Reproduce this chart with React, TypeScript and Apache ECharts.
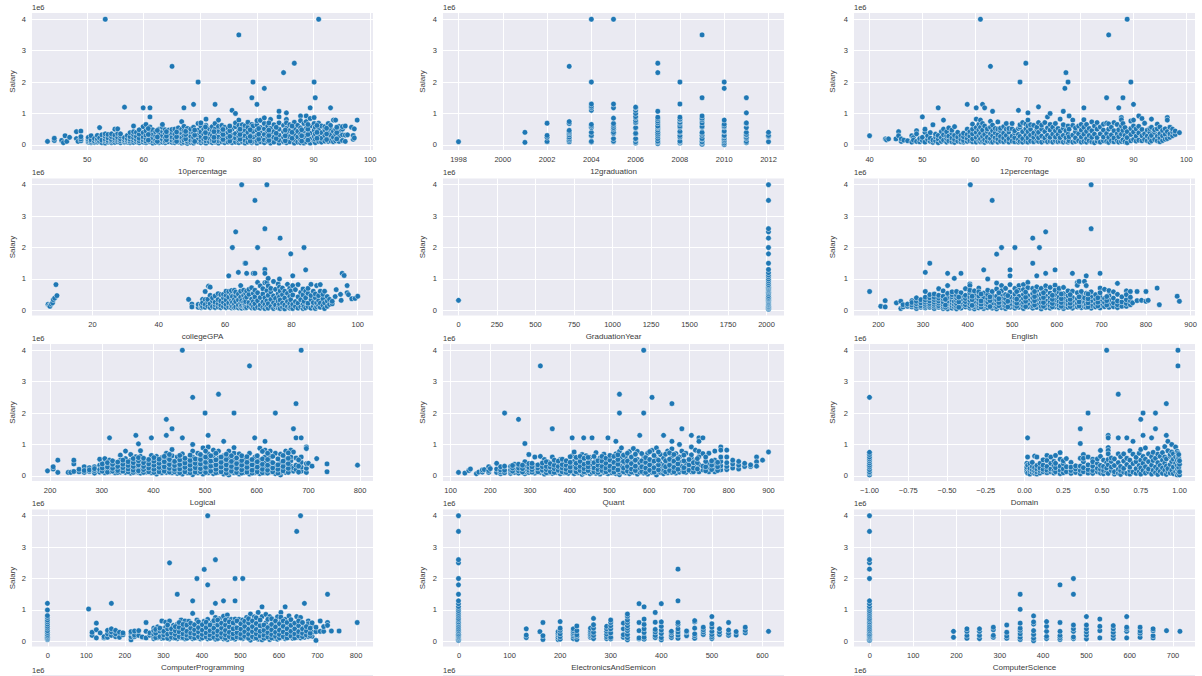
import React, { useEffect, useRef } from "react";
import * as echarts from "echarts";

// Values: [x, [salary in thousands, ...]]
type Col = [number, number[]];

const tenthPct: Col[] = [
[43,[110]],[44.2,[140,210]],[45.5,[140]],[45.8,[70]],[46.1,[290]],[46.4,[110]],[46.9,[240]],[48.1,[420,200]],[48.4,[110]],[48.9,[440,130,190,260]],
[50.2,[90,130,180,240]],[50.7,[70,110,160,290]],[51.3,[80,120,200]],[51.8,[90,140,190,300]],[52.2,[550,110,220]],[52.6,[70,150,320]],[53.2,[4000,60,130,180,270,350]],[53.7,[90,140,220,330]],[54.3,[70,120,170,260,350]],[54.9,[80,150,210,310,500]],[55.4,[100,170,240,360,510]],[55.9,[70,130,190,280,350]],[56.6,[1200,80,110,160,230]],[57.1,[90,140,200,300]],[57.6,[70,120,180,260,390]],[58.2,[80,150,230,330,420,600]],[58.7,[100,170,270,400]],[59.2,[70,130,210,340,480]],[59.9,[1180,90,160,250,390,580]],[60.4,[70,120,200,310,450,650]],[61.1,[1180,890,100,170,260,400,570]],[61.6,[60,130,220,340,480]],[62.1,[80,150,280,420]],[62.7,[70,120,200,350,500]],[63.3,[90,170,290,430,560,650]],[63.8,[70,130,230,370,480]],[64.4,[100,190,310,470]],[65,[2500,80,150,250,390,490]],[65.5,[70,130,210,340,500]],[66.1,[90,170,290,430,540]],[66.7,[740,60,120,240,380,500]],[67.1,[1180,80,160,300,450,590]],[67.7,[50,110,220,350,520]],[68.3,[80,150,280,420,500]],[68.8,[1290,60,130,240,380,560]],[69.6,[2000,100,190,320,470,680]],[70.1,[70,140,260,410,600,700]],[70.6,[90,180,340,500]],[71,[820,60,130,270,440,620]],[71.6,[100,210,360,510]],[72.1,[70,150,290,470,580]],[72.6,[1290,90,190,340,500,680]],[73.2,[790,60,130,250,430,590]],[73.8,[100,200,370,520,620]],[74.3,[70,150,290,460,560]],[74.9,[90,230,390,530]],[75.6,[1100,70,160,310,500]],[76.2,[1000,90,220,360,580,700]],[76.8,[790,3500,70,150,280,450,620]],[77.4,[100,210,380,530,640]],[77.9,[60,140,290,470,610]],[78.4,[90,230,400,560,720]],[79.1,[1500,70,160,320,500,650]],[79.3,[2000,110,250,430,600]],[80,[1290,60,140,300,470,640,770]],[80.6,[100,220,390,550,780]],[81.3,[1800,70,160,330,510,680,860]],[81.9,[110,260,430,600]],[82.4,[60,180,350,520,810]],[83,[90,240,420,640]],[83.9,[1070,890,60,150,310,500,700]],[84.7,[2300,100,240,420,620]],[85.2,[1020,810,70,170,340,530,700]],[85.8,[100,260,450,640]],[86.6,[2600,60,170,330,520,720]],[87.2,[90,250,430,620]],[87.7,[920,70,160,340,540,770]],[88.3,[60,230,440,680]],[88.7,[920,100,300,520,740]],[89.4,[1180,840,60,190,370,600]],[90.1,[2000,870,110,260,470,680]],[90.3,[1500,70,180,350,560]],[90.9,[4000,110,280,490,690]],[91.4,[90,210,390,600]],[92,[120,300,480,580]],[92.6,[110,230,410,680]],[93,[1180,130,320,520,620]],[93.5,[790,100,240,430]],[93.9,[790,130,340,500]],[94.5,[110,280,450,590]],[95.1,[140,320,500,580]],[95.6,[110,310,600]],[96,[320]],[96.7,[560]],[97,[180,300]],[97.2,[220,510]],[97.7,[790]],
];
const tenthPctExtra: Col[] = [
[60.8,[150,330,520]],[62.4,[110,250,460]],[64,[160,280,420]],[65.8,[110,260,410]],[67.4,[190,330,430]],[69,[110,310,470]],[70.9,[230,390,570]],[72.4,[130,240,420]],[74,[170,330,490]],[75.2,[120,270,450,600]],[77,[180,330,500]],[78.8,[120,270,480]],[80.3,[180,340,520]],[82.1,[140,300,470,700]],[83.4,[200,370,560]],[85,[130,290,470]],[86.2,[210,400,600]],[87.9,[120,290,480]],[89,[150,330,500,650]],[90.6,[210,400,620]],[92.3,[170,350,530]],[94.1,[190,390,560]],
];

const gradYear12: Col[] = [
[1998,[100]],[2001,[80,400]],[2002,[100,110,240,300,690]],[2003,[100,150,200,250,320,380,420,460,680,740,2500]],[2004,[90,110,280,300,400,550,600,650,1100,1180,1230,1300,2000,4000]],[2005,[100,120,200,360,400,500,550,620,680,850,1180,1300,4000]],[2006,[60,100,180,200,350,370,530,550,700,720,780,860,900,1000,1100,1180,1200]],[2007,[40,90,120,200,280,340,400,470,540,580,600,700,760,830,880,1070,2300,2600]],[2008,[60,100,120,250,300,400,430,560,600,680,720,800,820,880,1300,2000]],[2009,[20,70,100,180,200,300,360,400,560,590,700,800,850,920,1500,3500]],[2010,[10,60,120,170,220,280,300,420,440,570,600,660,790,1800,2000]],[2011,[70,110,200,240,310,330,400,550,680,700,1020,1500]],[2012,[100,270,300,400]],
];

const twelfthPct: Col[] = [
[40,[290]],[43,[190]],[43.2,[160]],[43.6,[190]],[45,[190]],[45.5,[420,290]],[46,[110,190]],[46.5,[150]],[47.2,[130]],[48,[290,90]],[48.3,[230,150]],[48.9,[450,350,110]],[49.5,[100,200]],[50,[890,140,240]],[50.5,[400,500,90]],[51,[170,290]],[51.5,[390,110,210]],[52,[640,80,150]],[52.5,[130,250,340]],[53,[1180,70,190,300]],[53.6,[110,230,420]],[54,[790,150,320,500]],[54.6,[90,200,290,420]],[55,[130,280,540]],[55.6,[100,220,370,470]],[56.1,[80,170,300,580]],[56.7,[120,250,400]],[57.3,[100,180,300]],[57.8,[90,140,260,370]],[58.5,[1290,110,210,330,500]],[59,[130,280,420]],[59.5,[100,190,350,500,660]],[60.2,[1180,820,90,240,400,550]],[60.7,[130,300,480,650]],[61,[4000,790,100,190,370,560]],[61.4,[1290,110,270,470,680]],[61.8,[1180,80,160,330,600]],[62.3,[120,240,430,510]],[62.9,[2500,100,200,350,560,750]],[63.3,[1070,90,290,450,630]],[63.8,[130,230,380,520]],[64.3,[730,90,190,320,500]],[64.8,[120,270,450,530]],[65.4,[100,220,370,580]],[65.9,[130,300,500,680]],[66.4,[90,200,410,520]],[67,[120,280,510,680]],[67.5,[100,230,380,450]],[68.2,[1100,90,170,330,520]],[68.5,[2000,110,270,560,640]],[69,[90,200,420,710]],[69.6,[2600,110,300,510,660]],[70,[1020,790,90,220,420,600]],[70.5,[120,310,500,640]],[71.1,[100,240,380,620]],[71.7,[130,310,480,560]],[72,[1210,710,110,230,400]],[72.6,[90,280,500,630]],[73.2,[130,220,420,710]],[73.7,[890,100,300,540]],[74.2,[1000,120,240,470,650]],[74.7,[90,340,560]],[75.2,[130,250,450,680]],[75.7,[100,330,520]],[76.1,[820,120,230,440]],[76.7,[1070,90,300,530,640]],[77.2,[2300,110,230,450]],[77.6,[2000,90,340,600]],[77,[1800]],[77.8,[920,130,260,500]],[78.5,[790,90,310,620]],[79,[110,220,420,540]],[79.6,[130,350,600]],[80.1,[90,250,470,650]],[80.6,[1180,800,110,340,560]],[81.1,[90,200,430,650]],[81.6,[130,300,520]],[82.1,[100,240,450,730]],[82.6,[70,340,600]],[83.1,[120,230,500,710]],[83.7,[90,350,570]],[84.3,[130,250,470,660]],[84.9,[1500,110,360,690]],[85.3,[3500,80,240,500,670]],[85.8,[130,320,560]],[86.3,[100,220,450,710]],[86.9,[130,350,650]],[87.2,[1180,90,260,480]],[87.7,[870,110,340,600,800]],[88,[1500,160,460,680]],[88.4,[100,300,550]],[88.8,[4000,70,230,420]],[89.5,[2000,760,130,330,520]],[90,[1290,790,170,410,600]],[90.5,[120,280,510]],[91,[920,150,380,590]],[91.6,[840,130,290,490]],[92.1,[170,350,690]],[92.6,[130,280,470]],[93.1,[90,220,400,520]],[93.4,[820,130,300,560]],[94,[170,400,480]],[94.5,[660,130,280,510]],[95,[100,230,360,570]],[95.5,[140,290,460]],[96,[180,340,510]],[96.4,[870,790,200,420]],[96.9,[240,350,560]],[97.4,[290,420,500]],[97.9,[330,440]],[98.7,[390]],
];

const collegeGpa: Col[] = [
[6.6,[190]],[7,[150]],[7.2,[130]],[7.6,[200]],[8,[240]],[8.2,[340]],[8.6,[390]],[9,[820]],[9.3,[470]],[49,[350]],[50,[200,110]],[51.9,[100,190]],[52.8,[90,140,190]],[53.2,[350,120,240]],[54,[600,340,100,190]],[54.8,[130,270,350]],[55,[770]],[55.5,[740,90,210,480]],[56.2,[120,300,400]],[57,[90,180,260,460]],[57.9,[110,220,340,530]],[58.7,[90,170,300,500]],[59.5,[120,250,400,510]],[60.3,[90,190,330,480,610]],[61.1,[1100,110,240,420,600]],[61.9,[80,170,310,500,630]],[62.2,[2000,120,260,440]],[62.8,[90,200,350,640]],[63.2,[2500,110,280,470,580]],[64,[1210,80,170,330,520]],[64.7,[100,230,420,610,790]],[65,[4000,70,150,310]],[65.6,[110,260,480,640]],[66,[1500,80,190,370]],[66.2,[1500,540,120,280]],[66.5,[1180,90,420,620]],[67.2,[130,250,510,670]],[68,[80,190,360,720]],[68.5,[1180,110,280,540]],[69,[3500,1180,70,210,430,640]],[69.8,[2000,890,100,310,560]],[70.6,[70,170,410,780]],[71.4,[100,260,520,690]],[72,[2600,1300,1180,60,190,400,880]],[72.6,[4000,890,110,300,630]],[73,[1020,70,210,480,780]],[73.8,[120,350,590,700]],[74.6,[60,240,460,920]],[75.2,[110,170,380,670]],[76,[80,290,530,840]],[76.4,[1000,120,200,430,740]],[76.6,[2300,60,330,620]],[77.3,[100,230,500,710]],[78,[50,170,390,610]],[78.8,[120,280,540,830]],[79.5,[70,210,440,700]],[79.8,[1800,100,340,620]],[80.4,[1100,60,190,490,790]],[81.2,[120,280,660]],[82,[70,230,430,820]],[82.8,[110,340,570]],[83.5,[60,190,490,680]],[83.8,[2000,120,290]],[84.3,[1290,80,400,610]],[85,[120,230,540,700]],[85.9,[830,70,340,470]],[86.6,[130,250,610]],[87.2,[60,400,520]],[87.6,[790,120,240]],[88.2,[150,310,470]],[88.7,[820,100,230,610]],[89.5,[160,370,510]],[90,[60,240,610]],[90.8,[130,300,440]],[91.5,[190,350]],[92.3,[210,290]],[93.2,[440]],[93.5,[660]],[94.8,[510]],[95,[320]],[95.3,[1180]],[95.9,[1110]],[96.8,[790,560]],[97.2,[500]],[98.2,[370]],[99.2,[380]],[100,[450]],
];

const graduationYear: Col[] = [
[0,[320]],
[2013,[35,70,100,130,170,200,240,280,320,350,380,420,470,530,580,620,660,700,740,780,820,880,940,1000,1070,1130,1200,1300,1500,1800,2000,2300,2500,2600,3500,4000]],
];

const english: Col[] = [
[180,[600]],[205,[130]],[215,[310,110]],[240,[240]],[250,[290,60]],[255,[110,180]],[265,[130,200]],[275,[110,170,310,250]],[285,[60,130,210,290,400]],[295,[100,150,240,340]],[305,[1210,80,130,190,260,330,420,600]],[315,[1500,100,160,220,300,400,500]],[325,[60,130,190,260,340,420,520]],[335,[690,100,150,230,300,390,480]],[345,[60,120,190,270,370,450,620]],[355,[1180,790,50,130,210,290,400,540]],[365,[70,150,240,330,430,500,590]],[370,[1020,110,190,280]],[375,[50,130,220,310,400,480,600]],[385,[1180,70,160,260,350,450,560]],[395,[110,180,280,380,480,690]],[405,[840,790,70,130,220,320,430,560,640]],[406,[4000]],[415,[50,120,190,290,390,500,620]],[425,[710,80,150,240,350,460,590]],[436,[1290,60,130,210,320,420,550]],[445,[1000,90,170,270,380,500,640]],[455,[3500,70,140,230,350,470,600]],[465,[1790,870,50,120,210,330,450,680]],[476,[2000,790,90,170,280,400,530,620]],[485,[60,140,250,370,500,700]],[495,[1290,1100,820,100,190,310,430,580]],[506,[2000,70,150,270,390,520,700]],[515,[790,100,200,320,450,640]],[525,[820,60,150,260,380,510,660]],[535,[890,110,210,330,470,720]],[546,[2300,1500,70,150,280,400,540,700]],[555,[1100,100,200,340,470,640,750]],[561,[2000]],[565,[50,130,260,390,520,700]],[575,[2500,1180,780,90,180,320,460,620]],[585,[70,150,270,400,550,730]],[596,[1290,800,110,210,340,500,640]],[605,[90,170,290,420,580,700]],[615,[60,130,250,380,530,730]],[625,[100,200,320,470,620]],[635,[1180,70,160,290,410,610]],[646,[890,800,110,230,370,560]],[650,[920]],[655,[90,180,310,450,600]],[662,[920,120,260,400]],[666,[1100,790,100,200,540]],[677,[4000,2600,70,150,300,440,590]],[687,[110,220,360,500]],[697,[1180,710,80,180,300,430,560]],[707,[120,250,380,670]],[717,[100,200,330,480,630]],[727,[120,240,390,590]],[736,[860,90,180,300,510]],[746,[130,270,430]],[756,[620,130,220,340,500]],[765,[600,180,300,420]],[770,[240]],[780,[600,310]],[790,[320]],[800,[600,290]],[805,[320]],[825,[710]],[830,[180]],[870,[450]],[875,[290]],
];
const englishExtra: Col[] = [
[350,[100,170,350]],[380,[100,270,420]],[410,[160,340,450]],[430,[110,200,300,520]],[450,[120,310,430]],[470,[150,250,370,560]],[490,[110,290,470]],[510,[130,230,360,600]],[530,[120,290,420,580]],[550,[170,310,440,600]],[570,[130,250,410,560]],[590,[110,220,350,480]],[610,[130,250,370,520]],[630,[120,230,350,500]],[650,[140,270,430]],[670,[110,240,370,520]],[692,[140,260,400]],[712,[170,310,440]],
];

const logical: Col[] = [
[195,[160]],[206,[220,290]],[215,[110,500]],[235,[110]],[240,[110]],[246,[140,380,500]],[256,[130,210]],[266,[110,290,170]],[276,[140,260,190]],[286,[90,170,290,230]],[296,[120,340,530,200]],[306,[100,180,310,430,550]],[315,[1210,130,230,330,500]],[326,[100,190,280,430]],[336,[120,210,360,660,500]],[346,[790,110,200,310,420,550]],[356,[90,160,260,380,680,490]],[366,[1290,130,220,330,450,610]],[371,[1020,110,280]],[375,[800,90,170,400,520,620]],[386,[120,230,350,470]],[396,[1210,100,180,300,420,650]],[406,[60,140,250,370,510,620]],[416,[100,200,330,450,580]],[425,[1800,1290,110,220,390,560,720]],[436,[1500,840,100,180,300,470,640]],[446,[80,150,260,380,530,600]],[456,[4000,1210,60,170,300,450,700]],[466,[100,210,340,500]],[476,[2500,1000,40,150,290,420,600,790]],[486,[100,220,360,530,720]],[496,[60,170,290,450,610,890]],[500,[2000]],[506,[1290,920,100,230,390,570,700]],[516,[70,170,320,480,650,820]],[526,[2600,120,250,390,560,790]],[536,[1100,60,170,320,480,640]],[546,[30,110,250,400,790,570]],[556,[2000,900,100,200,350,510,720]],[566,[60,150,290,430,700]],[576,[110,220,380,560]],[586,[3500,60,160,320,480,720]],[596,[1210,100,230,400,590]],[606,[70,170,330,500,880]],[616,[1100,100,240,410,600,820]],[626,[130,290,450,620,790]],[636,[2000,70,180,360,720]],[646,[30,120,260,430,690]],[656,[110,210,380,540,790]],[666,[820,170,310,480,600]],[671,[1500,760,150,250]],[676,[2300,1210,200,340,570]],[686,[4000,1210,150,280,430,600]],[696,[920,870,110,240,390]],[700,[400]],[707,[310]],[716,[550]],[736,[380,130]],[795,[340]],
];
const logicalExtra: Col[] = [
[301,[150,250,380]],[311,[120,280,420]],[321,[150,240,370,480]],[331,[110,170,300,440]],[341,[150,260,370,500]],[351,[130,220,330,450]],[361,[110,180,300,420,550]],[371,[160,350,480,580]],[381,[110,200,300,420,560]],[391,[130,250,380,520]],[401,[110,210,340,470,580]],[411,[130,270,400,530]],[421,[150,290,450,620]],[431,[120,240,360,520,680]],[441,[130,210,330,460]],[451,[100,220,360,510,650]],[461,[130,270,410,560]],[471,[100,210,340,490,660]],[481,[120,260,400,540]],[491,[130,230,380,520,680]],[501,[110,270,430,600,790]],[511,[150,310,470,640]],[521,[100,210,350,510,720]],[531,[130,280,430,600]],[541,[90,210,350,520,690]],[551,[150,300,460,640]],[561,[110,240,390,570]],[571,[90,190,340,490,640]],[581,[120,270,430,610]],[591,[90,180,350,520]],[601,[130,280,450,640]],[611,[100,210,370,540,780]],[621,[90,180,340,520,720]],[631,[130,250,420,620]],[641,[90,210,350,540]],[651,[160,300,470,650]],[661,[110,240,390,560,730]],[681,[120,310,510]],
];

const quant: Col[] = [
[120,[110]],[136,[90]],[146,[170]],[150,[220]],[165,[70]],[171,[120]],[180,[120,190]],[185,[200]],[196,[110,170,290]],[200,[230]],[216,[110,220,400]],[226,[70,130,190,290]],[236,[2000,100,180,310]],[251,[80,140,190,300]],[261,[110,200,370]],[271,[1800,90,160,250,370]],[287,[1030,70,130,200,310,450]],[297,[110,180,270,390,680]],[312,[90,150,230,330,600]],[326,[3500,110,190,290,620]],[336,[60,140,230,340,520]],[346,[100,180,290,440]],[356,[1500,80,150,250,340,600]],[366,[110,200,310,430]],[376,[70,150,260,380,520]],[386,[100,210,310,490]],[396,[80,170,270,410]],[406,[1210,110,220,340,640]],[411,[70,160,290,460,760]],[421,[100,190,320,540]],[431,[50,140,250,390,680]],[435,[1210,90,520]],[441,[110,210,340,640]],[451,[70,150,280,430,590]],[456,[1210,110,350]],[466,[80,190,330,510,740]],[476,[60,130,250,390,570]],[486,[110,210,360,690]],[496,[1210,70,160,300,470]],[506,[100,230,390,570]],[516,[1100,70,160,330,700]],[525,[2600,2000,40,120,250,430,780]],[530,[890,170,300,580]],[540,[100,220,390,610]],[550,[70,170,330,500,770]],[560,[870,110,240,440]],[570,[60,160,320,520,780]],[576,[1290,120,240,420]],[586,[4000,2000,90,190,350,620]],[596,[60,150,300,470,720]],[607,[2500,110,230,410,810]],[618,[890,30,140,300,540]],[628,[110,220,390,680]],[636,[1290,70,170,330,560]],[646,[100,250,450,790]],[657,[2300,1100,110,200,400,620,860]],[667,[90,170,330,500,710]],[676,[1000,120,260,430,600]],[682,[1500,790,170,300]],[692,[110,230,400,720]],[706,[1290,920,130,300,560,670]],[716,[170,280,480,820]],[725,[1210,1100,130,360,610,780]],[735,[1210,190,310,710]],[750,[130,270,400,720]],[765,[130,240,360,500,790]],[780,[920,820,190,320,460,600]],[795,[820,200,300,420,600]],[810,[250,380,500]],[825,[220,340,460]],[840,[300,400]],[855,[300,350]],[870,[600,450,310]],[885,[500]],[900,[760]],
];
const quantExtra: Col[] = [
[256,[150,250,330]],[281,[120,230,340]],[305,[120,200,290,400]],[320,[130,250,350]],[331,[180,290,410]],[341,[100,200,300,450]],[351,[130,280,390]],[361,[110,230,340,500]],[371,[180,300,470]],[381,[130,250,360,530]],[391,[110,210,340,480]],[401,[150,280,430,610]],[416,[130,260,400,590]],[426,[170,300,460,620]],[436,[130,230,370,560]],[446,[170,290,420,590]],[461,[130,250,420,620]],[471,[110,200,340,480]],[481,[170,300,470,620]],[491,[130,250,400,560]],[501,[180,310,500,650]],[511,[120,250,430,620]],[521,[190,370,520,670]],[535,[130,250,460,660]],[545,[150,300,470,720]],[555,[120,220,390,600]],[565,[170,310,500,690]],[581,[140,290,480,710]],[591,[110,250,430,580]],[601,[180,350,520,770]],[612,[120,260,470,650]],[623,[190,350,500,760]],[641,[130,290,480,690]],[651,[170,340,530,730]],[662,[130,270,470,680]],[672,[210,380,550]],[687,[130,260,480,660]],[700,[180,350,520]],[711,[130,250,420]],[721,[220,420,550]],[742,[160,290,460,600]],[757,[200,340,480]],[772,[170,290,430]],
];

const domain: Col[] = [
[-1,[2500,30,90,130,200,280,340,410,480,540,600,680,750]],
[0.015,[130,210,280,400]],[0.02,[1210,600,90,340]],[0.035,[60,170,240,390]],[0.05,[110,200,300,430]],[0.065,[630,80,160,260]],[0.08,[600,60,130,220,330]],[0.1,[90,170,250,400]],[0.12,[130,210,340,510]],[0.145,[650,100,180,300,490]],[0.17,[600,130,220,400]],[0.19,[90,170,320,460]],[0.2,[650,130,260,400]],[0.23,[740,70,180,310,530]],[0.25,[100,220,390,480]],[0.27,[550,130,290]],[0.3,[80,170,430,280]],[0.33,[110,220,320]],[0.36,[1500,1030,70,170,310,560]],[0.38,[130,260,450,680,560]],[0.41,[2000,90,200,350,600]],[0.44,[80,170,310,530,450]],[0.47,[130,240,400,540]],[0.49,[810,90,210,330,620]],[0.51,[70,170,300,500]],[0.53,[4000,130,250,420]],[0.54,[1290,1210,900,810,80,350,520,700]],[0.56,[170,280,460,570]],[0.58,[60,130,330,540]],[0.605,[2600,1210,90,210,420,700]],[0.62,[50,170,300,610]],[0.64,[120,240,470,700]],[0.66,[1210,80,360,560]],[0.68,[60,170,280,500,800]],[0.7,[1100,120,390,690]],[0.72,[80,230,450,590]],[0.74,[130,330,720]],[0.75,[1800,840,60,250,500]],[0.765,[2000,1290,170,400,620]],[0.78,[890,90,290,530]],[0.8,[130,220,450,700]],[0.82,[1210,60,340,610]],[0.83,[180,490,750]],[0.845,[2000,1500,100,280,560]],[0.86,[870,50,210,420,690]],[0.875,[140,330,620]],[0.89,[80,250,500,740]],[0.905,[930,180,400,600]],[0.915,[2300,1290,50,310,540]],[0.925,[1100,130,230,800]],[0.94,[90,360,620,680]],[0.95,[1000,180,460,760]],[0.96,[70,280,530,700]],[0.975,[920,130,400,600]],[0.985,[30,220,330,500,780]],[0.99,[4000,3500,100,640,720]],[0.995,[170,270,440,560,680]],[1,[30,130,370,480]],
];

const programming: Col[] = [
[-1,[60,90,130,170,220,280,340,420,480,550,620,680,760,820,1000,1210]],
[106,[1030]],[115,[190,290]],[126,[580,370,110]],[136,[270]],[146,[110,150]],[155,[130,240,350]],[165,[1210,190,300,400]],[176,[150,240,350]],[186,[130,290]],[195,[210,270]],[216,[50,150,270,310]],[225,[150,200,330]],[236,[190,340]],[245,[140]],[255,[110,320,600]],[265,[190,270]],[275,[90,150,420,230,340]],[285,[120,200,300,460]],[296,[100,170,240,400,650]],[306,[130,270,360,450,610]],[316,[2500,80,190,310,430,650]],[326,[110,230,360,510]],[336,[1500,90,180,290,400,550]],[346,[120,240,360,680]],[356,[80,170,310,450,650]],[366,[130,230,370,640]],[376,[1290,890,90,180,310,460]],[387,[2000,120,250,380,680]],[396,[80,200,330,470,590]],[406,[2290,130,260,400,640]],[415,[4000,1800,80,190,320,700]],[426,[920,130,260,430,590]],[435,[2600,1210,70,190,340,500,760]],[446,[110,260,400,620,720]],[456,[1290,80,180,320,480,800]],[466,[840,60,140,280,420,700]],[476,[100,220,360,560,700]],[486,[2000,1290,70,170,310,470,710]],[496,[120,260,410,620,700]],[506,[2000,90,190,340,520,680]],[516,[130,260,430,760]],[526,[870,40,170,320,520,660]],[536,[100,240,400,780]],[546,[920,70,170,310,520]],[556,[1100,50,140,280,450,790]],[566,[110,240,390,590,860]],[576,[60,170,330,490,790]],[586,[100,240,400,600]],[596,[70,170,330,500,780]],[605,[920,120,250,430,640,770]],[616,[1100,90,190,370,550,700]],[626,[140,300,470,810]],[636,[100,230,400,590]],[646,[3500,130,300,490,790]],[656,[4000,110,220,400,760]],[666,[1210,130,300,490]],[676,[150,350,650,560]],[686,[160,300,490,590]],[696,[30,310,450]],[707,[650,320]],[716,[320,470]],[726,[1500,600,510]],[736,[330]],[756,[330]],[803,[600]],
];
const programmingExtra: Col[] = [
[280,[120,260,380]],[291,[150,330,420]],[301,[110,210,320]],[311,[100,230,400,520]],[321,[130,270,400]],[331,[110,220,340,470]],[341,[150,300,450,600]],[351,[120,240,390,540]],[361,[100,200,320,520]],[371,[140,270,420,580]],[381,[110,240,370,530]],[391,[150,300,440,620]],[401,[110,220,360,530]],[411,[140,270,440,610]],[421,[100,200,340,520]],[431,[130,280,420,660]],[441,[90,200,330,520,680]],[451,[140,260,420,580]],[461,[100,210,350,520,680]],[471,[150,290,460,620]],[481,[110,240,400,590]],[491,[140,280,430,650]],[501,[110,230,390,560]],[511,[160,310,480,640]],[521,[100,230,390,590,720]],[531,[150,310,470,650]],[541,[110,240,380,570,750]],[551,[170,320,500,680]],[561,[100,200,350,520]],[571,[140,280,440,700]],[581,[110,220,370,540,720]],[591,[160,290,460,650]],[601,[110,220,360,560]],[611,[150,300,480,650]],[621,[110,240,400,600]],[631,[170,320,510,690]],[641,[110,240,400,580]],[651,[170,310,500,650]],[661,[150,260,400,600]],[671,[200,330,470]],[681,[180,260,420]],
];

const electronics: Col[] = [
[-1,[30,70,110,150,190,230,290,340,390,450,510,570,620,680,730,800,860,920,980,1050,1110,1200,1290,1500,1800,2000,2500,2600,3500,4000]],
[133,[120,200,400]],[160,[310]],[166,[60,180,600]],[196,[60,130,200,260,310]],[200,[70,150,240,350,420,630]],[226,[90,170,230,280,340,400]],[233,[60,160,210,340,490]],[260,[130,180,230,290,350,420]],[266,[90,190,290,420,530,730]],[292,[90,150,230,320,400,480]],[300,[80,130,270,400,500,600,680]],[325,[130,210,400,580]],[333,[50,120,220,340,420,500,600,680,800,870]],[356,[80,110,340,600,1200]],[366,[70,130,280,400,540,710,1100]],[388,[120,190,300,380,610,920]],[400,[50,120,250,360,480,620,1200]],[420,[120,190,270,320]],[433,[100,200,300,400,540,600,1290,2300]],[450,[180,300,330]],[466,[100,180,240,420,620,660]],[483,[220,300,370,450]],[500,[90,150,220,320,450,560,790]],[515,[220,300,400]],[533,[190,260,360,600]],[548,[200,310]],[566,[270,350,450]],[612,[320]],
];

const computerScience: Col[] = [
[-1,[30,70,110,150,190,230,290,340,390,450,510,570,620,680,730,800,860,920,980,1050,1110,1200,1290,2000,2300,2500,2600,3500,4000]],
[193,[130,320]],[224,[100,190,320,400]],[253,[90,190,320,400]],[285,[130,190,370,450]],[316,[100,170,290,520]],[347,[60,130,240,350,420,580,1020,1500]],[378,[20,100,220,340,550,620,810]],[408,[90,160,320,480,630]],[439,[60,120,190,320,600,1800]],[470,[90,140,320,400,520,1500,2000]],[500,[80,200,300,400,520,790]],[531,[110,340,480,710]],[562,[100,190,290,400,500]],[593,[110,320,400,450,790]],[624,[130,260,330,450]],[654,[110,180,340,400]],[685,[340]],[716,[320]],
];

const salaryTicks = [0, 1, 2, 3, 4];
const panels: { name: string; cols: Col[]; min: number; max: number; ticks: number[] }[] = [
  { name: "10percentage", cols: [...tenthPct, ...tenthPctExtra], min: 40.26, max: 100.5, ticks: [50, 60, 70, 80, 90, 100] },
  { name: "12graduation", cols: gradYear12, min: 1997.3, max: 2012.7, ticks: [1998, 2000, 2002, 2004, 2006, 2008, 2010, 2012] },
  { name: "12percentage", cols: twelfthPct, min: 37.05, max: 101.65, ticks: [40, 50, 60, 70, 80, 90, 100] },
  { name: "collegeGPA", cols: collegeGpa, min: 1.78, max: 104.6, ticks: [20, 40, 60, 80, 100] },
  { name: "GraduationYear", cols: graduationYear, min: -100.65, max: 2113.65, ticks: [0, 250, 500, 750, 1000, 1250, 1500, 1750, 2000] },
  { name: "English", cols: [...english, ...englishExtra], min: 145, max: 910, ticks: [200, 300, 400, 500, 600, 700, 800, 900] },
  { name: "Logical", cols: [...logical, ...logicalExtra], min: 165, max: 825, ticks: [200, 300, 400, 500, 600, 700, 800] },
  { name: "Quant", cols: [...quant, ...quantExtra], min: 81, max: 939, ticks: [100, 200, 300, 400, 500, 600, 700, 800, 900] },
  { name: "Domain", cols: domain, min: -1.1, max: 1.1, ticks: [-1, -0.75, -0.5, -0.25, 0, 0.25, 0.5, 0.75, 1] },
  { name: "ComputerProgramming", cols: [...programming, ...programmingExtra], min: -41, max: 844, ticks: [0, 100, 200, 300, 400, 500, 600, 700, 800] },
  { name: "ElectronicsAndSemicon", cols: electronics, min: -31.6, max: 642.6, ticks: [0, 100, 200, 300, 400, 500, 600] },
  { name: "ComputerScience", cols: computerScience, min: -36.8, max: 750.8, ticks: [0, 100, 200, 300, 400, 500, 600, 700] },
];

const FONT = "'Liberation Sans', Arial, sans-serif";
const TEXT = "#3a3a3a";
const LEFTS = [32, 443, 854];
const TOPS = [13, 178.5, 344, 509.5];
const SALARY_GAPS = [16, 17, 18];
const PANEL_W = 341;
const PANEL_H = 137;

function formatTick(name: string, v: number) {
  if (name === "Domain") return (v < 0 ? "\u2212" : "") + Math.abs(v).toFixed(2);
  return String(v);
}

export default function App() {
  const ref = useRef<HTMLDivElement>(null);
  useEffect(() => {
    const chart = echarts.init(ref.current!, undefined, { renderer: "svg" });
    const grid: any[] = [];
    const xAxis: any[] = [];
    const yAxis: any[] = [];
    const series: any[] = [];
    const graphic: any[] = [];
    panels.forEach((p, i) => {
      const left = LEFTS[i % 3];
      const top = TOPS[Math.floor(i / 3)];
      grid.push({ left, top, width: PANEL_W, height: PANEL_H, show: true, backgroundColor: "#EAEAF2", borderWidth: 0, containLabel: false });
      xAxis.push({
        type: "value", gridIndex: i, min: p.min, max: p.max, name: p.name, nameLocation: "middle", nameGap: 17,
        nameTextStyle: { fontFamily: FONT, fontSize: 8, color: TEXT },
        axisLine: { show: false },
        axisTick: { show: false, customValues: p.ticks },
        axisLabel: { customValues: p.ticks, margin: 5, fontFamily: FONT, fontSize: 7.5, color: TEXT, hideOverlap: false, formatter: (v: number) => formatTick(p.name, v) },
        splitLine: { show: true, lineStyle: { color: "#ffffff", width: 1 } },
      });
      yAxis.push({
        type: "value", gridIndex: i, min: -163000, max: 4198000, name: "Salary", nameLocation: "middle", nameGap: SALARY_GAPS[i % 3], nameRotate: 90,
        nameTextStyle: { fontFamily: FONT, fontSize: 8, color: TEXT },
        axisLine: { show: false },
        axisTick: { show: false, customValues: salaryTicks.map((t) => t * 1e6) },
        axisLabel: { customValues: salaryTicks.map((t) => t * 1e6), margin: 6, fontFamily: FONT, fontSize: 7.5, color: TEXT, formatter: (v: number) => String(v / 1e6) },
        splitLine: { show: true, lineStyle: { color: "#ffffff", width: 1 } },
      });
      series.push({
        type: "scatter", xAxisIndex: i, yAxisIndex: i, symbolSize: 5.6,
        itemStyle: { color: "#1f77b4", borderColor: "#ffffff", borderWidth: 0.5, opacity: 1 },
        data: p.cols.flatMap(([x, ys]) => ys.map((y) => [x, y * 1000])),
      });
      graphic.push({ type: "text", x: left, y: top - 6, style: { text: "1e6", fontFamily: FONT, fontSize: 7.5, fill: TEXT, textVerticalAlign: "middle", textAlign: "left" } });
    });
    // The next row of panels, cut off by the bottom edge of the picture.
    LEFTS.forEach((left) => {
      graphic.push({ type: "rect", shape: { x: left, y: 675, width: PANEL_W, height: 1 }, style: { fill: "#EAEAF2" } });
      graphic.push({ type: "text", x: left, y: 670, style: { text: "1e6", fontFamily: FONT, fontSize: 7.5, fill: TEXT, textVerticalAlign: "middle", textAlign: "left" } });
    });
    chart.setOption({ animation: false, backgroundColor: "#ffffff", grid, xAxis, yAxis, series, graphic, tooltip: { show: false } });
    return () => chart.dispose();
  }, []);
  return <div ref={ref} style={{ position: "absolute", left: 0, top: 0, width: 1202, height: 676 }} />;
}
